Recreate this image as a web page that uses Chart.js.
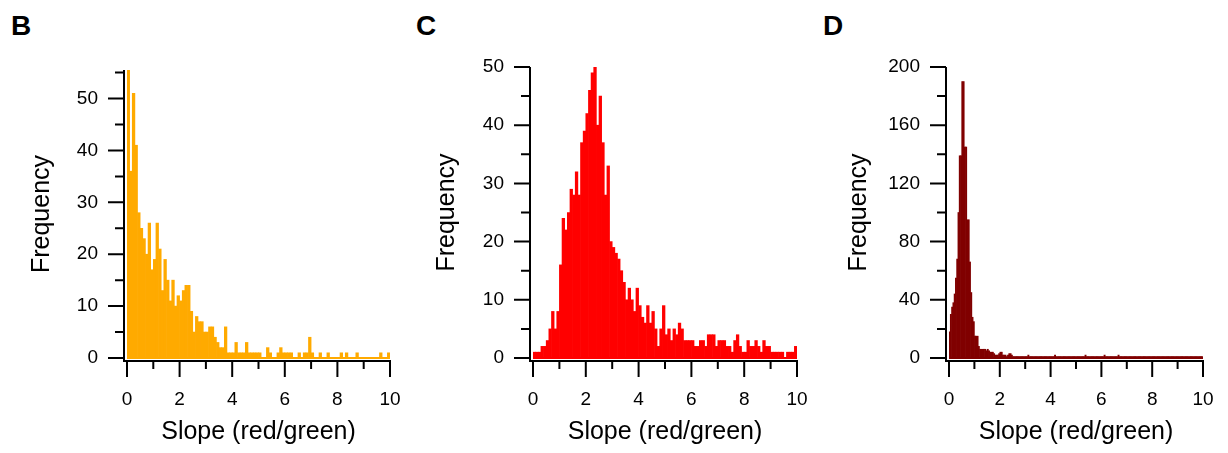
<!DOCTYPE html>
<html>
<head>
<meta charset="utf-8">
<script src="https://cdn.jsdelivr.net/npm/chart.js@4.4.1/dist/chart.umd.min.js"></script>
<style>
  body { margin: 0; background: #fff; width: 1228px; height: 453px; overflow: hidden; position: relative; font-family: Arial, "Liberation Sans", sans-serif; }
  canvas { position: absolute; top: 0; }
  .letter { position: absolute; top: 12px; font-size: 28px; line-height: 28px; font-weight: bold; color: #000; }
</style>
</head>
<body>
<div class="letter" style="left:11px">B</div>
<div class="letter" style="left:416px">C</div>
<div class="letter" style="left:823px">D</div>
<canvas id="hist-b" width="409" height="453" style="left:0px"></canvas>
<canvas id="hist-c" width="409" height="453" style="left:409px"></canvas>
<canvas id="hist-d" width="410" height="453" style="left:818px"></canvas>
<script>
// bin widths of the histograms (slope units)
const binWidthB = 0.1;
const binWidthC = 0.1;
const binWidthD = 0.05;

// counts per bin
const countsB = [
  56, 36, 51, 41, 28, 25, 23, 20, 26, 17,
  19, 26, 21, 13, 19, 15, 11, 15, 10, 12,
  11, 13, 14, 14, 9, 5, 8, 7, 7, 5,
  5, 6, 6, 4, 3, 2, 2, 6, 1, 1,
  1, 3, 1, 1, 1, 3, 1, 1, 1, 1,
  1, 0, 0, 2, 1, 0, 0, 1, 2, 1,
  1, 1, 1, 0, 0, 1, 0, 1, 1, 4,
  1, 0, 0, 1, 0, 0, 1, 0, 0, 0,
  0, 1, 0, 1, 0, 0, 0, 1, 0, 0,
  0, 0, 0, 0, 0, 0, 1, 0, 0, 1
];

const countsC = [
  1, 1, 1, 2, 2, 3, 5, 8, 5, 8,
  16, 24, 22, 25, 29, 28, 32, 28, 37, 39,
  42, 46, 49, 50, 40, 45, 37, 28, 33, 20,
  19, 18, 17, 15, 13, 10, 12, 10, 8, 12,
  9, 7, 6, 9, 6, 8, 5, 2, 5, 9,
  4, 5, 3, 5, 4, 6, 5, 3, 3, 3,
  3, 2, 2, 3, 3, 2, 4, 4, 4, 2,
  3, 3, 3, 2, 2, 1, 3, 4, 2, 1,
  1, 3, 2, 2, 3, 2, 1, 3, 2, 2,
  1, 1, 1, 1, 1, 0, 1, 1, 1, 2
];

const countsD = [
  18, 30, 35, 38, 44, 55, 68, 100, 139, 139,
  190, 190, 145, 145, 95, 95, 66, 45, 28, 25,
  15, 15, 15, 8, 6, 6, 6, 6, 6, 5,
  6, 5, 4, 4, 4, 3, 2, 2, 2, 3,
  4, 4, 2, 2, 2, 1, 2, 3, 3, 2,
  1, 1, 1, 1, 1, 1, 1, 1, 1, 1,
  1, 1, 2, 1, 1, 1, 1, 1, 1, 1,
  1, 1, 1, 1, 1, 1, 1, 1, 1, 1,
  1, 1, 1, 2, 1, 1, 1, 1, 1, 1,
  1, 1, 1, 1, 1, 1, 1, 1, 1, 1,
  1, 1, 1, 1, 1, 1, 1, 2, 1, 1,
  1, 1, 1, 1, 1, 1, 1, 1, 1, 1,
  1, 1, 2, 1, 1, 1, 1, 1, 1, 1,
  1, 1, 1, 2, 1, 1, 1, 1, 1, 1,
  1, 1, 1, 1, 1, 1, 1, 1, 1, 1,
  1, 1, 1, 1, 1, 1, 1, 1, 1, 1,
  1, 1, 1, 1, 1, 1, 1, 1, 1, 1,
  1, 1, 1, 1, 1, 1, 1, 1, 1, 1,
  1, 1, 1, 1, 1, 1, 1, 1, 1, 1,
  1, 1, 1, 1, 1, 1, 1, 1, 1, 1
];

// labelled ticks
const xLabelTicks = [0, 2, 4, 6, 8, 10];
const yLabelTicksB = [0, 10, 20, 30, 40, 50];
const yLabelTicksC = [0, 10, 20, 30, 40, 50];
const yLabelTicksD = [0, 40, 80, 120, 160, 200];

const xTitle = 'Slope (red/green)';
const yTitle = 'Frequency';

Chart.defaults.font.family = 'Arial, "Liberation Sans", sans-serif';
Chart.defaults.color = '#000';

// Igor-style axes: offset from the plot, long ticks on labelled values
const igorAxes = {
  id: 'igorAxes',
  afterDraw(chart) {
    const { ctx, chartArea, scales } = chart;
    const gap = 3;
    const ax = chartArea.left - gap;
    const ay = chartArea.bottom + gap;
    ctx.save();
    ctx.strokeStyle = '#000';
    ctx.lineWidth = 2;
    ctx.beginPath();
    ctx.moveTo(ax, chartArea.top);
    ctx.lineTo(ax, ay + 1);
    ctx.moveTo(ax - 1, ay);
    ctx.lineTo(chartArea.right + 1, ay);
    for (const t of scales.y.ticks) {
      const py = scales.y.getPixelForValue(t.value);
      const len = t.label !== '' ? 16 : 9;
      ctx.moveTo(ax, py);
      ctx.lineTo(ax - len, py);
    }
    for (const t of scales.x.ticks) {
      const px = scales.x.getPixelForValue(t.value);
      const len = t.label !== '' ? 16 : 8;
      ctx.moveTo(px, ay);
      ctx.lineTo(px, ay + len);
    }
    ctx.stroke();
    ctx.restore();
  }
};

function drawHistogram(canvasId, counts, binWidth, color, yMax, yStep, yLabelTicks, box) {
  const points = counts.map((count, i) => ({ x: (i + 0.5) * binWidth, y: count }));
  return new Chart(document.getElementById(canvasId), {
    type: 'bar',
    data: {
      datasets: [
        {
          data: points,
          backgroundColor: color,
          borderWidth: 0,
          barPercentage: 1,
          categoryPercentage: 1,
        },
        {
          // zero line of the histogram trace
          type: 'line',
          data: [{ x: 0, y: 0 }, { x: 10, y: 0 }],
          borderColor: color,
          borderWidth: 2,
          pointRadius: 0,
          clip: false,
        },
      ],
    },
    options: {
      responsive: false,
      animation: false,
      layout: { padding: box.padding },
      plugins: { legend: { display: false }, tooltip: { enabled: false } },
      scales: {
        x: {
          type: 'linear',
          min: 0,
          max: 10,
          offset: false,
          // ticks are drawn by the plugin; tickLength only spaces the labels
          grid: { display: false, drawTicks: true, tickLength: 30 },
          border: { display: false },
          ticks: {
            stepSize: 1,
            autoSkip: false,
            maxRotation: 0,
            padding: 0,
            font: { size: 19 },
            callback: (v) => (xLabelTicks.includes(v) ? String(v) : ''),
          },
          title: {
            display: true,
            text: xTitle,
            font: { size: 25 },
            padding: { top: 0, bottom: 6 },
          },
          afterFit: (scale) => { scale.height = box.xHeight; },
        },
        y: {
          min: 0,
          max: yMax,
          grid: { display: false, drawTicks: true, tickLength: 29 },
          border: { display: false },
          ticks: {
            stepSize: yStep,
            includeBounds: false,
            autoSkip: false,
            padding: 0,
            font: { size: 19 },
            callback: (v) => (yLabelTicks.includes(v) ? String(v) : ''),
          },
          title: {
            display: true,
            text: yTitle,
            font: { size: 25 },
            padding: { top: box.yTitlePad, bottom: 0 },
          },
          afterFit: (scale) => { scale.width = box.yWidth; },
        },
      },
    },
    plugins: [igorAxes],
  });
}

drawHistogram('hist-b', countsB, binWidthB, '#FFAA00', 55.5, 5, yLabelTicksB,
  { padding: { left: 0, top: 70, right: 19, bottom: 0 }, yWidth: 127, xHeight: 95, yTitlePad: 27 });
drawHistogram('hist-c', countsC, binWidthC, '#FF0000', 50, 5, yLabelTicksC,
  { padding: { left: 0, top: 67, right: 21, bottom: 0 }, yWidth: 124, xHeight: 95, yTitlePad: 23 });
drawHistogram('hist-d', countsD, binWidthD, '#800000', 200, 20, yLabelTicksD,
  { padding: { left: 0, top: 67, right: 25, bottom: 0 }, yWidth: 131, xHeight: 95, yTitlePad: 26 });
</script>
</body>
</html>
